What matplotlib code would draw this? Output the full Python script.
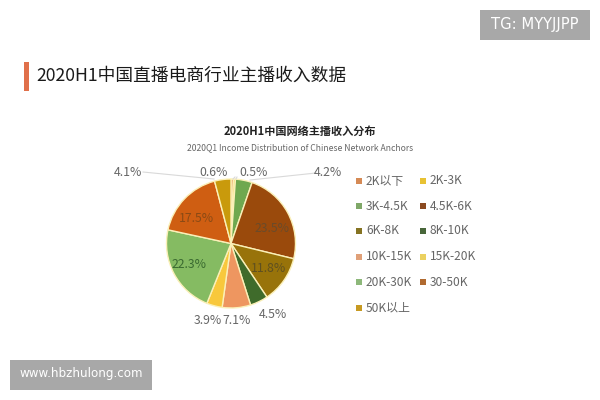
import matplotlib
matplotlib.use("Agg")
import matplotlib.pyplot as plt
from matplotlib.patches import Rectangle
from matplotlib.font_manager import FontProperties

plt.rcParams['font.family'] = ['Noto Sans CJK SC', 'DejaVu Sans']

categories = ['2K以下', '2K-3K', '3K-4.5K', '4.5K-6K', '6K-8K', '8K-10K',
              '10K-15K', '15K-20K', '20K-30K', '30-50K', '50K以上']
values = [0.6, 0.5, 4.2, 23.5, 11.8, 4.5, 7.1, 3.9, 22.3, 17.5, 4.1]
colors = ['#E0843F', '#F2CF4A', '#6FA84F', '#9A4A0C', '#98730A', '#3F6B2B',
          '#EE9660', '#F8C83C', '#85BB62', '#CF5E12', '#C99A0C']
value_labels = ['0.6%', '0.5%', '4.2%', '23.5%', '11.8%', '4.5%', '7.1%', '3.9%', '22.3%', '17.5%', '4.1%']
label_colors = ['#666666', '#666666', '#666666', '#6A4A2A', '#5F5020', '#666666',
                '#666666', '#666666', '#3A6A30', '#8A4A15', '#666666']
legend_colors = ['#D58A55', '#E8C233', '#7FA868', '#8B4A20', '#857322', '#48663A',
                 '#E0A078', '#EBD160', '#8DB87A', '#B06A30', '#C79A22']

title = '2020H1中国直播电商行业主播收入数据'
chart_title = '2020H1中国网络主播收入分布'
chart_subtitle = '2020Q1 Income Distribution of Chinese Network Anchors'
badge_top = 'TG: MYYJJPP'
badge_bottom = 'www.hbzhulong.com'

W, H = 600, 400
fig = plt.figure(figsize=(W / 100, H / 100), dpi=100, facecolor='white')

ov = fig.add_axes([0, 0, 1, 1], zorder=3)
ov.set_xlim(0, W); ov.set_ylim(H, 0); ov.axis('off'); ov.patch.set_alpha(0)

cx, cy, r = 231, 243.5, 64.5
ax = fig.add_axes([(cx - r) / W, 1 - (cy + r) / H, 2 * r / W, 2 * r / H], zorder=2)
ax.pie(values, colors=colors, startangle=90, counterclock=False, radius=1,
       wedgeprops=dict(edgecolor='#FBF0B8', linewidth=1.0))
ax.set_xlim(-1, 1); ax.set_ylim(-1, 1)

label_pos = [(214, 172), (254, 172), (328, 172), (272, 229), (269, 269), (273, 315),
             (237, 321), (208, 321), (189, 264), (196, 219), (128, 172)]
for lab, (x, y), tc in zip(value_labels, label_pos, label_colors):
    ov.text(x, y, lab, fontsize=8.8, color=tc, ha='center', va='center')
for pts in ([(143, 172), (214, 179)], [(316, 173), (250, 180)],
            [(235, 177), (233, 179)], [(237, 177), (236, 179)]):
    ov.plot(*zip(*pts), color='#D9D9D9', lw=0.8)

lx = [356, 420]
ly = [181, 206, 231, 257, 282, 308]
for i, (c, col) in enumerate(zip(categories, legend_colors)):
    row, colm = i // 2, i % 2
    ov.add_patch(Rectangle((lx[colm], ly[row] - 3), 6, 6, color=col, lw=0))
    ov.text(lx[colm] + 10, ly[row], c, fontsize=8.6, color='#666666', va='center')

ov.add_patch(Rectangle((24, 62), 5, 29, color='#E0704A', lw=0))
ov.text(36, 76, title, fontsize=12.75, color='#1A1A1A', va='center', fontweight='medium')
ov.text(300, 131, chart_title, fontsize=8, color='#222222', ha='center', va='center', fontweight='bold')
ov.text(300, 148, chart_subtitle, fontsize=6.2, color='#666666', ha='center', va='center')

ov.add_patch(Rectangle((480, 10), 110, 30, color='#A8A8A8', lw=0))
ov.text(535, 25, badge_top, color='white', ha='center', va='center',
        fontproperties=FontProperties(family='DejaVu Sans', size=10.6))
ov.add_patch(Rectangle((10, 360), 142, 30, color='#A8A8A8', lw=0))
ov.text(81, 374, badge_bottom, color='white', ha='center', va='center',
        fontproperties=FontProperties(family='DejaVu Sans', size=8.6))

fig.savefig('out.png', dpi=100)
